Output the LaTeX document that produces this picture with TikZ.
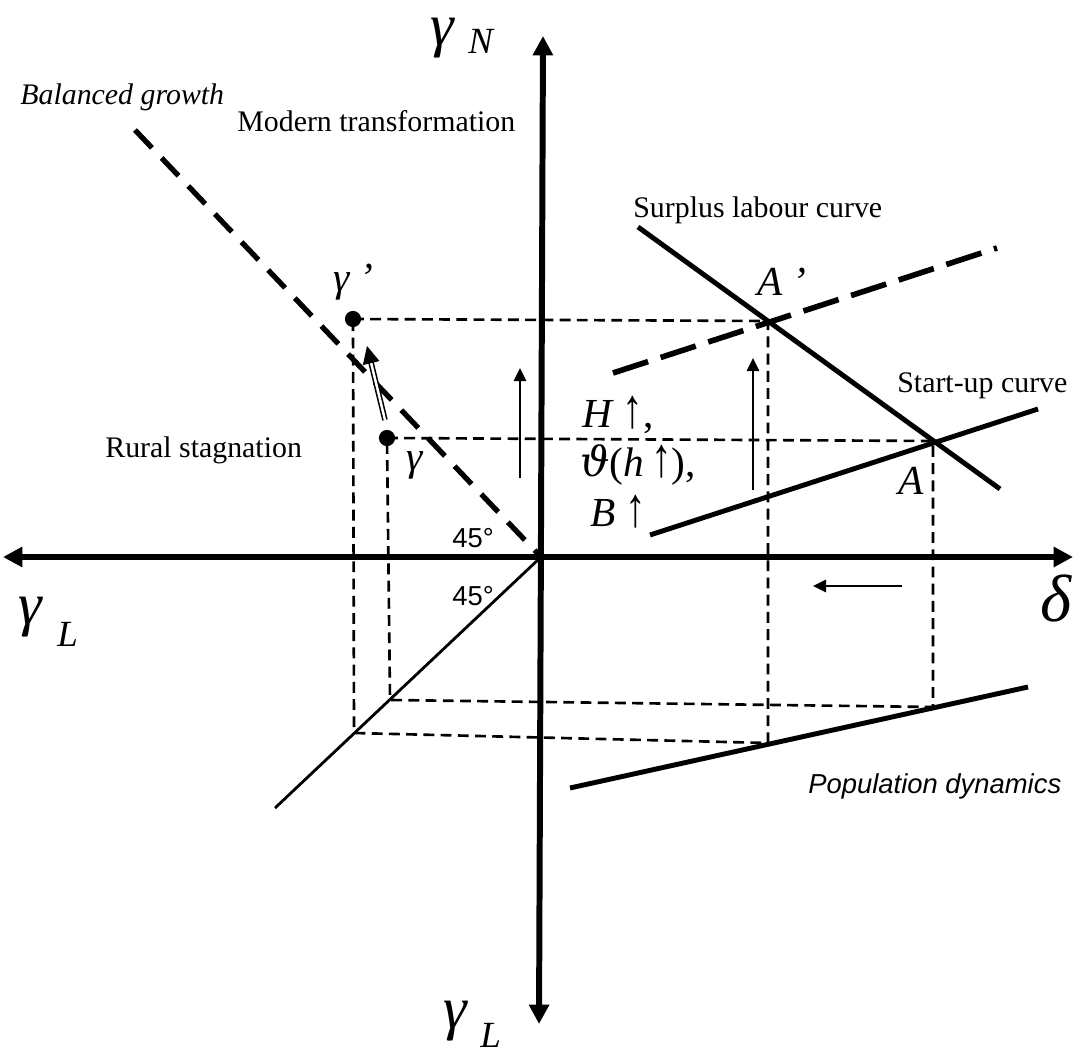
\documentclass[tikz,border=0pt]{standalone}
\usepackage{fontspec}
\setmainfont{Liberation Serif}
\setsansfont{Liberation Sans}
\newfontfamily\thetafont{DejaVu Serif}
\usetikzlibrary{arrows.meta,positioning}
\newcommand{\uparr}{\scalebox{1}[1.35]{↑}}

\begin{document}
\begin{tikzpicture}[x=0.02cm,y=-0.02cm,every node/.style={inner sep=0pt,font=\fontsize{17}{17}\selectfont},
  axis/.style={line width=3.4pt,{Triangle[length=11pt,width=11pt]}-{Triangle[length=11pt,width=11pt]}},
  curve/.style={line width=2.8pt},
  guide/.style={line width=1.5pt,dash pattern=on 6.2pt off 3.6pt},
  shifted/.style={line width=3.2pt,dash pattern=on 21pt off 7.5pt},
  move/.style={line width=1.4pt,-{Triangle[length=7.5pt,width=7pt]}},
  big/.style={font=\fontsize{34}{34}\selectfont\itshape,text height=0.55em,text depth=0.22em},
  sub/.style={font=\fontsize{21}{21}\selectfont\itshape},
  mathlbl/.style={font=\fontsize{23.5}{23.5}\selectfont},
  eqlbl/.style={mathlbl,text height=0.72em,text depth=0.12em},
  sanslbl/.style={font=\fontsize{15.6}{15.6}\selectfont\sffamily}]
\useasboundingbox (0,0) rectangle (1078,1057);
\coordinate (o) at (541,557);
\coordinate (xw) at (3,557);
\coordinate (xe) at (1073,557);
\coordinate (yn) at (543,36);
\coordinate (ys) at (539,1024);
\coordinate (bg) at (135,130);
\coordinate (fs) at (275,808);
\coordinate (gp) at (353,319);
\coordinate (g) at (387,438);
\coordinate (ap) at (768,321);
\coordinate (a) at (933,441);
\coordinate (qp) at (354,733);
\coordinate (q) at (390,700);
\coordinate (pp) at (768,743);
\coordinate (p) at (933,707);
\coordinate (sl0) at (638,227);
\coordinate (sl1) at (1000,489);
\coordinate (su0) at (650,535);
\coordinate (su1) at (1038,409);
\coordinate (sh0) at (613,373);
\coordinate (sh1) at (997,248);
\coordinate (pd0) at (570,788);
\coordinate (pd1) at (1028,687);
% axes
\draw[axis] (xw)--(xe);
\draw[axis] (ys)--(yn);
\draw[line width=3pt,dash pattern=on 14pt off 8pt] (bg)--(o);
\draw[line width=1.6pt] (o)--(fs);
% curves
\draw[curve] (sl0)--(sl1);
\draw[curve] (su0)--(su1);
\draw[shifted] (sh0)--(sh1);
\draw[curve] (pd0)--(pd1);
% projections
\draw[guide] (gp)--(ap)--(pp)--(qp)--cycle;
\draw[guide] (g)--(a)--(p)--(q)--cycle;
\fill (gp) circle (4.6pt);
\fill (g) circle (4.6pt);
% shifts
\coordinate (m1a) at (520,478); \coordinate (m1b) at (520,368);
\coordinate (m2a) at (753,490); \coordinate (m2b) at (753,358);
\coordinate (m3a) at (902,586); \coordinate (m3b) at (813,586);
\coordinate (m4a) at (385,420); \coordinate (m4b) at (367,346);
\draw[move] (m1a)--(m1b);
\draw[move] (m2a)--(m2b);
\draw[move] (m3a)--(m3b);
\draw[line width=0.9pt,double,double distance=1.4pt,-{Triangle[length=10pt,width=9.5pt]}] (m4a)--(m4b);
% labels
\node[big,anchor=base west] (gN) at (430,46) {γ};
\node[sub,anchor=base west] (gNs) at (468,54) {N};
\node[big,anchor=base west] (gLb) at (443,1028) {γ};
\node[sub,anchor=base west] (gLbs) at (480,1047) {L};
\node[big,anchor=base west] (gLl) at (18,624) {γ};
\node[sub,anchor=base west] (gLls) at (57,646) {L};
\node[font=\fontsize{38}{38}\selectfont\itshape,anchor=base west] (dl) at (1040,621) {δ};
\node[anchor=base west,font=\fontsize{17}{17}\selectfont\itshape] (bgl) at (20,105) {Balanced growth};
\node[anchor=base west] (mtl) at (237,132) {Modern transformation};
\node[anchor=base west] (sll) at (633,218) {Surplus labour curve};
\node[anchor=base west] (sul) at (897,393) {Start-up curve};
\node[anchor=base west] (rsl) at (105,457) {Rural stagnation};
\node[sanslbl,anchor=base west] (pdl) at (808,793) {\itshape Population dynamics};
\node[sanslbl,anchor=base west] (d1) at (452,547) {45°};
\node[sanslbl,anchor=base west] (d2) at (452,605) {45°};
\node[mathlbl,anchor=base west] (apl) at (757,296) {\itshape A \char"27};
\node[mathlbl,anchor=base west] (al) at (898,494) {\itshape A};
\node[mathlbl,anchor=base west] (gpl) at (333,292) {\itshape γ \char"27};
\node[mathlbl,anchor=base west] (gl) at (406,470) {\itshape γ};
\node[eqlbl,anchor=base west] (hl) at (582,427) {\itshape H\upshape\ \uparr,};
\node[eqlbl,anchor=base west] (tl) at (580,476) {{\thetafont\itshape ϑ}(\itshape h\upshape\,\uparr),};
\node[eqlbl,anchor=base west] (bl) at (590,526) {\itshape B\upshape\ \uparr};
\end{tikzpicture}
\end{document}
